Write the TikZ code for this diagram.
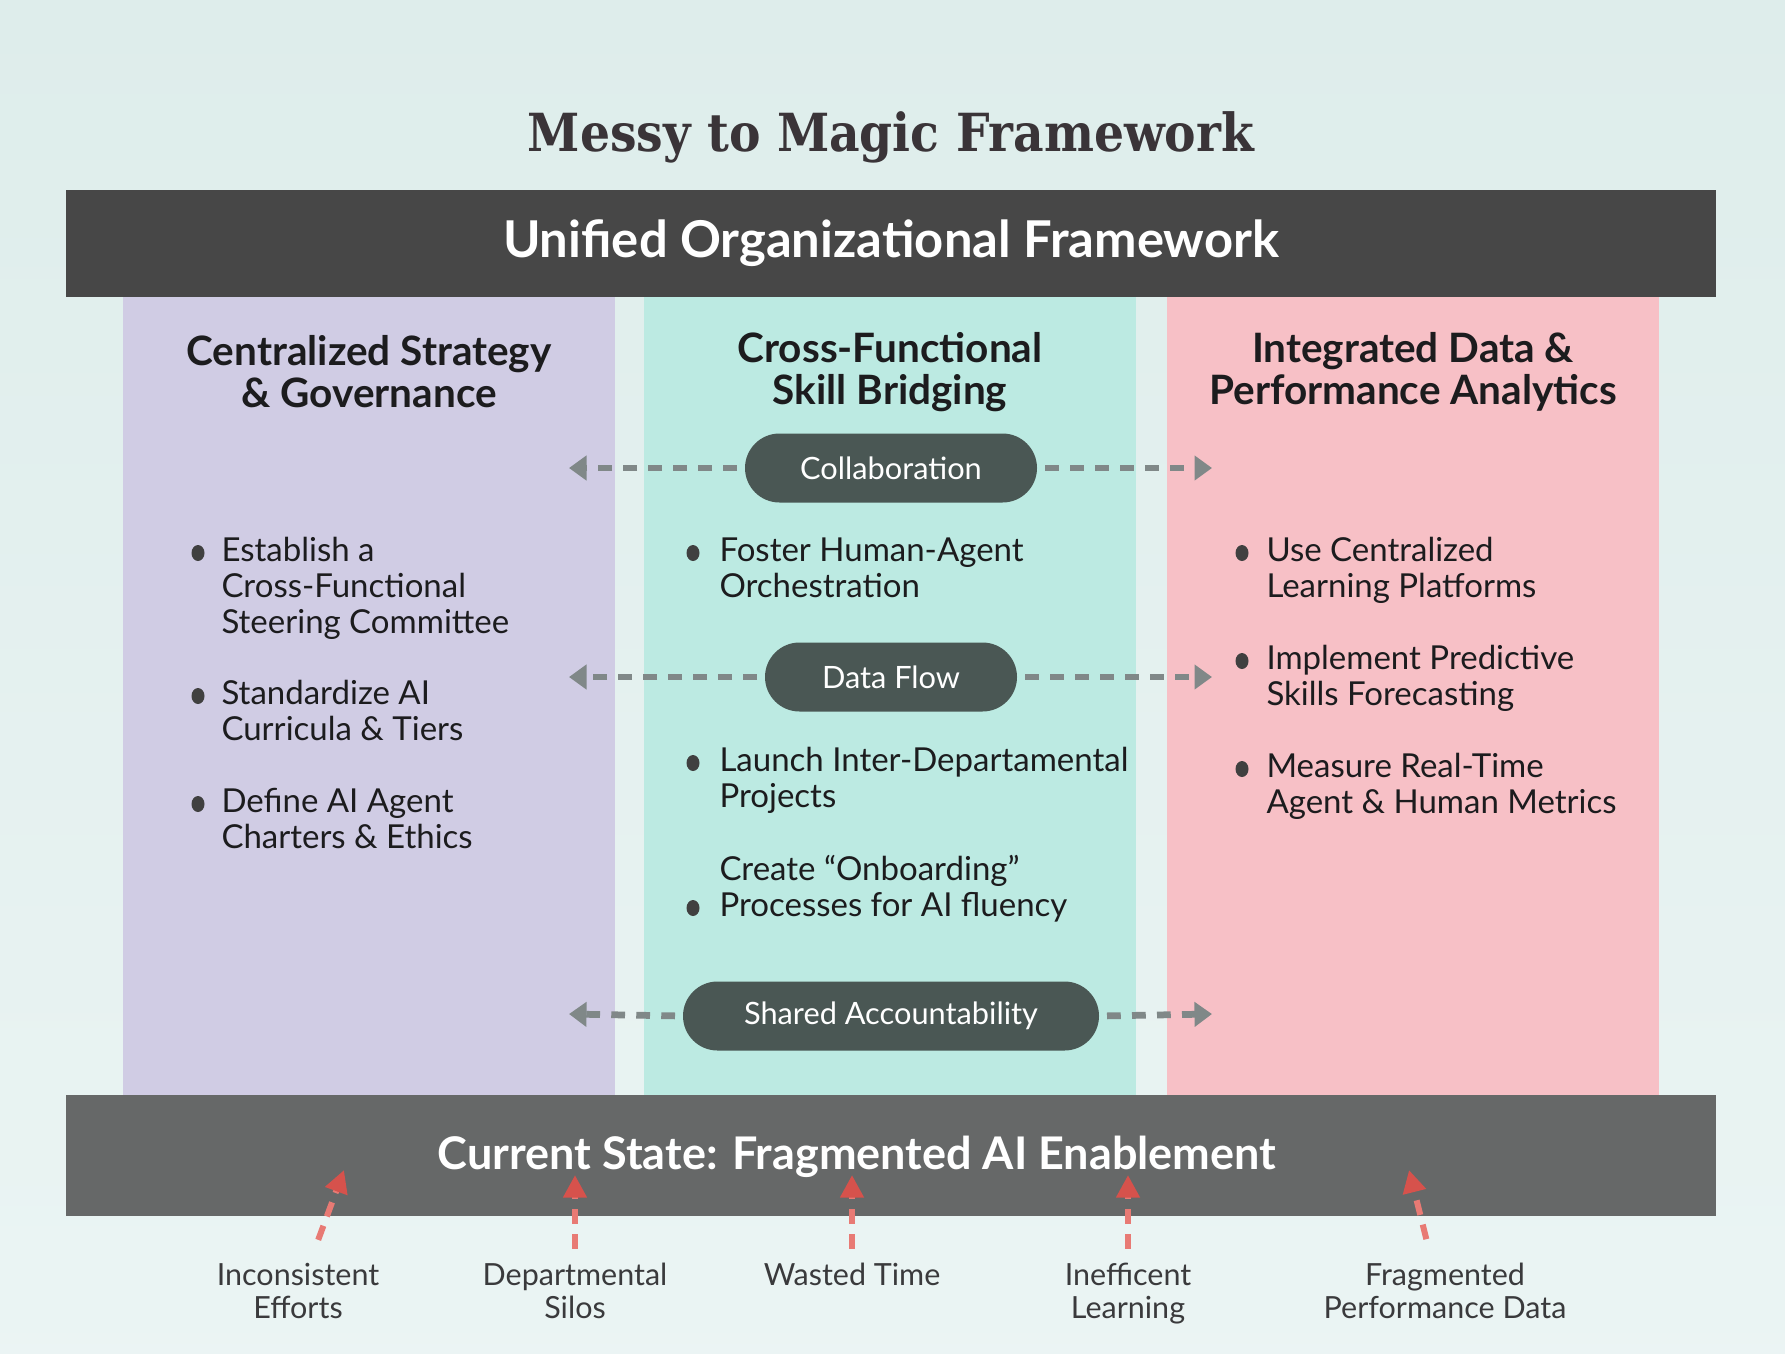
\documentclass[tikz,border=0pt]{standalone}
\usepackage{fontspec}
\setmainfont{Lato}
\newfontfamily\titlefont{DejaVu Serif Condensed}
\usepackage{xcolor}
\usetikzlibrary{arrows.meta,positioning,shapes.geometric}

\definecolor{bgmint}{RGB}{222,237,235}
\definecolor{govfill}{RGB}{208,204,228}
\definecolor{skillfill}{RGB}{188,234,226}
\definecolor{datafill}{RGB}{247,192,198}
\definecolor{topbar}{RGB}{71,71,71}
\definecolor{basebar}{RGB}{102,104,104}
\definecolor{pillfill}{RGB}{74,87,84}
\definecolor{linkgray}{RGB}{128,136,136}
\definecolor{causered}{RGB}{232,122,116}
\definecolor{causehead}{RGB}{214,82,76}
\definecolor{inkdark}{RGB}{28,28,30}
\definecolor{titleink}{RGB}{58,52,56}
\definecolor{effectink}{RGB}{58,58,60}

\begin{document}
\begin{tikzpicture}[
  x=0.4pt, y=-0.4pt,
  bar/.style={minimum width=660pt, minimum height=42.8pt, inner sep=0pt,
    text=white, font=\bfseries\fontsize{20.3}{22}\selectfont},
  heading/.style={align=center, text=inkdark, font=\bfseries\fontsize{16.2}{16.8}\selectfont},
  item/.style={anchor=base west, align=left, inner sep=0pt, text=inkdark,
    font=\fontsize{13.2}{14.4}\selectfont},
  dot/.style={ellipse, fill=black!75, minimum width=5.2pt, minimum height=6.4pt, inner sep=0pt},
  pill/.style={rounded corners=13.8pt, fill=pillfill, text=white, minimum height=27.6pt,
    font=\fontsize{12.3}{13}\selectfont},
  link/.style={-{Triangle[length=7pt,width=9.6pt]}, draw=linkgray, line width=2.7pt,
    dash pattern=on 5.5pt off 4.5pt, shorten <=3pt},
  cause/.style={-{Triangle[length=9pt,width=9pt,color=causehead]}, draw=causered,
    line width=2.4pt, dash pattern=on 6pt off 4pt},
  effect/.style={anchor=base, align=center, text=effectink, font=\fontsize{12.2}{13.2}\selectfont}
]
\useasboundingbox (0,0) rectangle (1785,1353);
\shade[top color=bgmint, bottom color=bgmint!92!teal!40] (0,0) rectangle (1785,1353);

% columns
\fill[govfill] (123,297) rectangle (615,1095);
\fill[skillfill] (644,297) rectangle (1136,1095);
\fill[datafill] (1167,297) rectangle (1659,1095);

% title and bars
\node[text=titleink, font=\titlefont\bfseries\fontsize{21}{24}\selectfont] (title) at (891,137) {Messy to Magic Framework};
\node[bar, fill=topbar] (unified) at (891,243.5) {Unified Organizational Framework};
\node[bar, fill=basebar, minimum height=48.4pt] (current) at (891,1155.5) {};
\node[text=white, font=\bfseries\fontsize{18}{22}\selectfont] (currentlbl) at (857,1157) {Current State: Fragmented AI Enablement};

% headings
\node[heading] (govhead) at (369,372) {Centralized Strategy\\\& Governance};
\node[heading] (skillhead) at (890,372) {Cross-Functional\\Skill Bridging};
\node[heading] (datahead) at (1413,372) {Integrated Data \&\\Performance Analytics};

% left items
\node[dot] (g1) at (198,553) {};
\node[item] (gov1) at (221,633) {Establish a\\Cross-Functional\\Steering Committee};
\node[dot] (g2) at (198,696) {};
\node[item] (gov2) at (221,740) {Standardize AI\\Curricula \& Tiers};
\node[dot] (g3) at (198,804) {};
\node[item] (gov3) at (221,848) {Define AI Agent\\Charters \& Ethics};

% middle items
\node[dot] (s1) at (693,553) {};
\node[item] (skill1) at (719,597) {Foster Human-Agent\\Orchestration};
\node[dot] (s2) at (693,763) {};
\node[item] (skill2) at (719,807) {Launch Inter-Departamental\\Projects};
\node[dot] (s3) at (693,908) {};
\node[item] (skill3) at (719,916) {Create “Onboarding”\\Processes for AI fluency};

% right items
\node[dot] (d1) at (1242,553) {};
\node[item] (data1) at (1266,597) {Use Centralized\\Learning Platforms};
\node[dot] (d2) at (1242,661) {};
\node[item] (data2) at (1266,705) {Implement Predictive\\Skills Forecasting};
\node[dot] (d3) at (1242,769) {};
\node[item] (data3) at (1266,813) {Measure Real-Time\\Agent \& Human Metrics};

% pills and links
\node[pill, minimum width=116.8pt] (collab) at (891,468) {Collaboration};
\node[pill, minimum width=100.8pt] (flow) at (891,677) {Data Flow};
\node[pill, minimum width=166.4pt] (shared) at (891,1016) {Shared Accountability};
\coordinate (collabL) at (569,468);
\coordinate (collabR) at (1212,468);
\coordinate (flowL) at (569,677);
\coordinate (flowR) at (1212,677);
\coordinate (sharedL) at (569,1014);
\coordinate (sharedR) at (1212,1014);
\draw[link] (collab.west) -- (collabL);
\draw[link] (collab.east) -- (collabR);
\draw[link] (flow.west) -- (flowL);
\draw[link] (flow.east) -- (flowR);
\draw[link] (shared.west) -- (sharedL);
\draw[link] (shared.east) -- (sharedR);

% causes
\node[effect] (incon) at (298,1318) {Inconsistent\\Efforts};
\node[effect] (silos) at (575,1318) {Departmental\\Silos};
\node[effect] (wasted) at (852,1285) {Wasted Time};
\node[effect] (ineff) at (1128,1318) {Inefficent\\Learning};
\node[effect] (fragm) at (1445,1318) {Fragmented\\Performance Data};
\coordinate (incontip) at (344,1170);
\coordinate (silostip) at (575,1175);
\coordinate (wastedtip) at (852,1175);
\coordinate (inefftip) at (1128,1175);
\coordinate (fragmtip) at (1409,1170);
\draw[cause, shorten <=6pt] ([xshift=6pt]incon.north) -- (incontip);
\draw[cause, shorten <=2pt] (silos.north) -- (silostip);
\draw[cause, shorten <=2pt] (wasted.north) -- (wastedtip);
\draw[cause, shorten <=2pt] (ineff.north) -- (inefftip);
\draw[cause, shorten <=6pt] ([xshift=-6pt]fragm.north) -- (fragmtip);
\end{tikzpicture}
\end{document}
